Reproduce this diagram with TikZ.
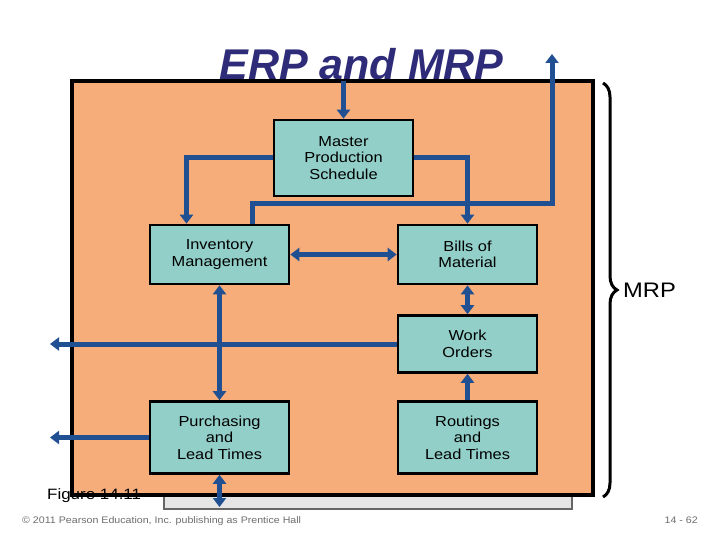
\documentclass[tikz,border=0pt]{standalone}
\usepackage{fontspec}
\setmainfont{Liberation Sans}
\newfontfamily\boxfont[FakeStretch=1.13]{Liberation Sans}
\newfontfamily\footfont[FakeStretch=1.12]{Liberation Sans}
\usetikzlibrary{arrows.meta,decorations.pathreplacing}
\definecolor{orangefill}{RGB}{246,173,122}
\definecolor{tealfill}{RGB}{146,207,200}
\definecolor{arrblue}{RGB}{32,80,145}
\definecolor{titleblue}{RGB}{46,43,120}
\definecolor{footgray}{RGB}{110,110,110}
\tikzset{
  mbox/.style={draw=black, line width=2.6pt, fill=tealfill, inner sep=0pt,
    minimum width=139pt, align=center, font=\boxfont\fontsize{14.5}{16.6}\selectfont},
  arr/.style={draw=arrblue, line width=5pt, -{Triangle[length=9pt,width=13pt]}},
  darr/.style={draw=arrblue, line width=5pt, {Triangle[length=9pt,width=13pt]}-{Triangle[length=9pt,width=13pt]}}
}
\begin{document}
\begin{tikzpicture}[x=1pt,y=-1pt]
\useasboundingbox[fill=white] (0,0) rectangle (720,540);
% shadow panel and main panel
\draw[fill=black!10, draw=black!60, line width=1.5pt] (164,470) rectangle (572,509);
\fill[orangefill] (72,81) rectangle (593,495);
\node[anchor=base, text=titleblue, font=\fontsize{43}{43}\bfseries\itshape\selectfont, inner sep=0pt] (title) at (361.5,80) {ERP and MRP};
\node[anchor=base west, font=\boxfont\fontsize{15}{15}\selectfont, inner sep=0pt] (fig) at (47,499) {Figure 14.11};
\draw[black, line width=3.2pt] (72,81) rectangle (593,495);
% boxes
\node[mbox, minimum height=76pt] (mps) at (343.5,158) {Master\\Production\\Schedule};
\node[mbox, minimum height=59pt] (inv) at (219.5,254.5) {Inventory\\Management};
\node[mbox, minimum height=59pt] (bom) at (467.5,254.5) {Bills of\\Material};
\node[mbox, minimum height=57pt] (wo) at (467.5,344) {Work\\Orders};
\node[mbox, minimum height=72pt] (pur) at (219.5,437.5) {Purchasing\\and\\Lead Times};
\node[mbox, minimum height=72pt] (rout) at (467.5,437.5) {Routings\\and\\Lead Times};
% coordinates for free ends
\coordinate (topin) at (343.5,81);
\coordinate (turn) at (552,204);
\coordinate (erpout) at (552,54);
\coordinate (woout) at (50,344);
\coordinate (purout) at (50,437.5);
\coordinate (botout) at (219.5,507);
% connectors
\draw[arr] (topin) -- (mps.north);
\draw[arr] (mps.west) -| ([xshift=-33pt]inv.north);
\draw[arr] (mps.east) -| (bom.north);
\draw[arr] ([xshift=33pt]inv.north) |- (turn) -- (erpout);
\draw[darr] (inv.east) -- (bom.west);
\draw[darr] (bom.south) -- (wo.north);
\draw[darr] (inv.south) -- (pur.north);
\draw[arr] (wo.west) -- (woout);
\draw[arr] (pur.west) -- (purout);
\draw[arr] (rout.north) -- (wo.south);
\draw[darr] (pur.south) -- (botout);
% brace and label
\draw[black, line width=3pt, decorate, decoration={brace, amplitude=14pt}] (603,83) -- (603,497);
\node[anchor=west, font=\boxfont\fontsize{21}{21}\selectfont, inner sep=0pt] (mrp) at (623,290) {MRP};
% footer
\node[anchor=base west, text=footgray, font=\footfont\fontsize{9.5}{9.5}\selectfont, inner sep=0pt] (copy) at (22,523) {© 2011 Pearson Education, Inc. publishing as Prentice Hall};
\node[anchor=base east, text=footgray, font=\footfont\fontsize{9.5}{9.5}\selectfont, inner sep=0pt] (page) at (698,523) {14 - 62};
\end{tikzpicture}
\end{document}
